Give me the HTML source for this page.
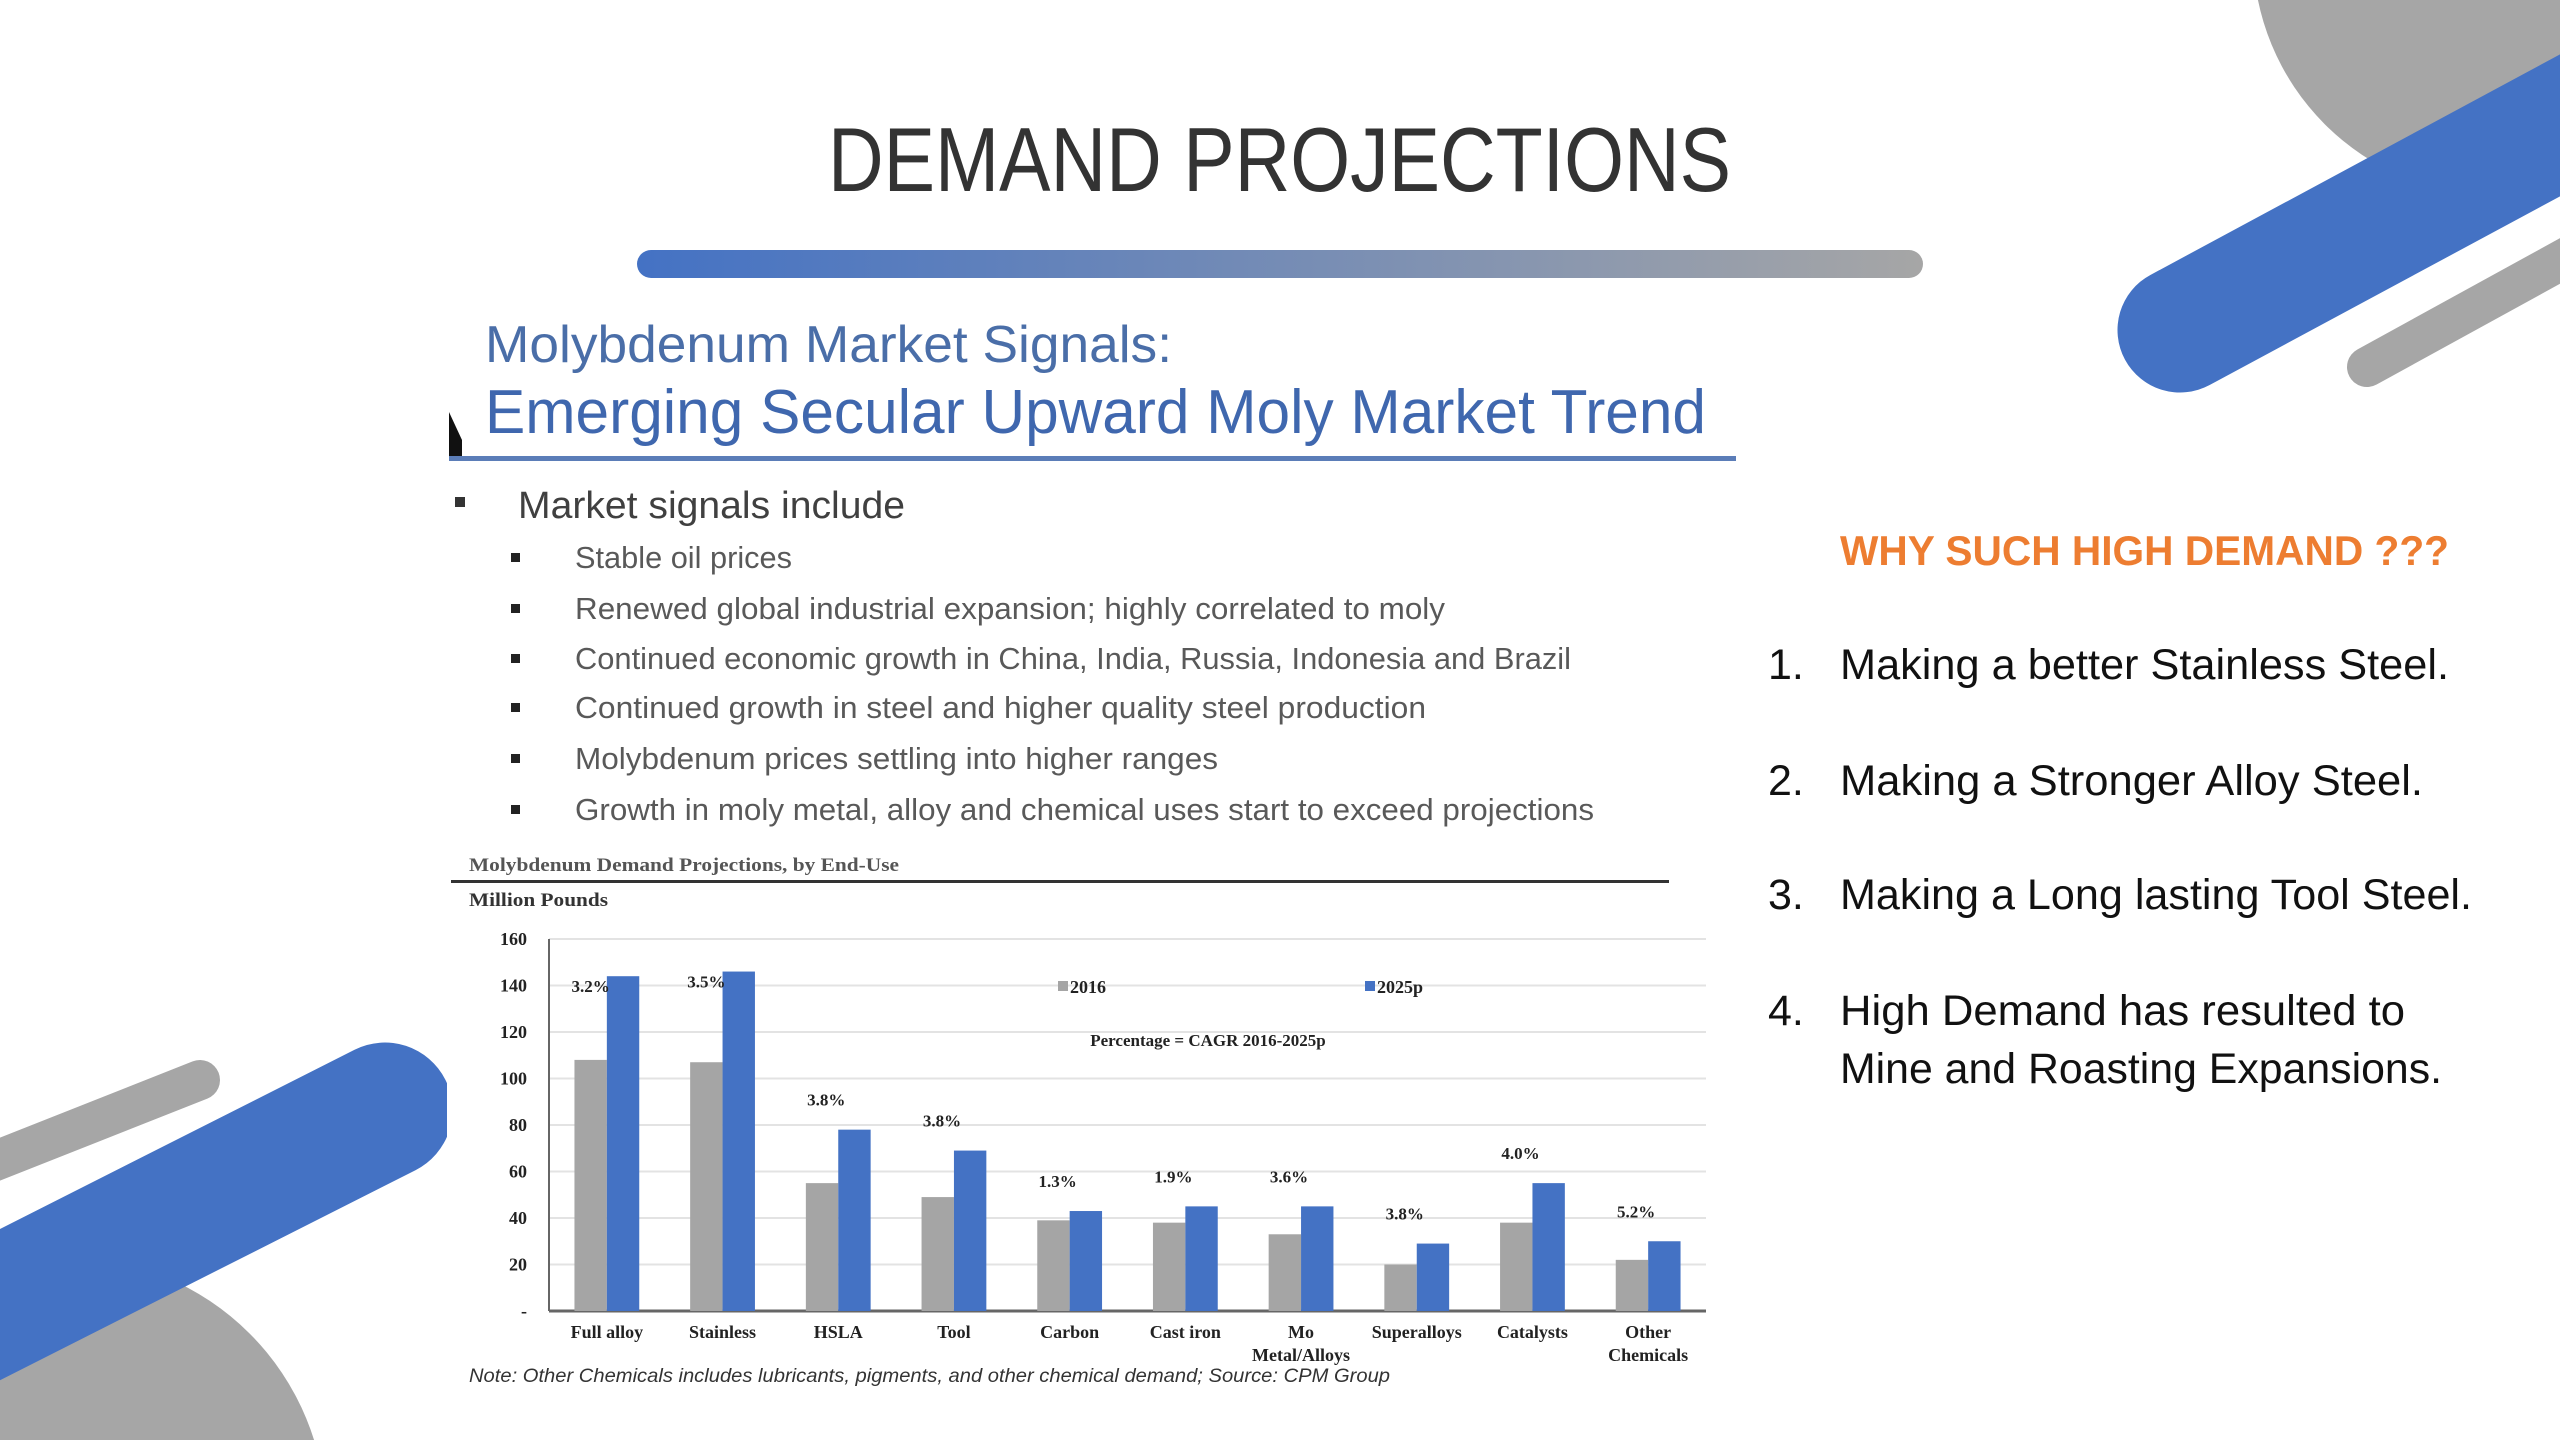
<!DOCTYPE html>
<html><head><meta charset="utf-8"><style>
html,body{margin:0;padding:0;background:#fff;width:2560px;height:1440px;overflow:hidden}
svg{display:block}
.t{font-family:"Liberation Sans",sans-serif}
.s{font-family:"Liberation Serif",serif;font-weight:bold}
</style></head><body>
<svg id="slide" width="2560" height="1440" viewBox="0 0 2560 1440" xmlns="http://www.w3.org/2000/svg">
<defs>
<linearGradient id="g1" x1="0" x2="1" y1="0" y2="0"><stop offset="0" stop-color="#4472C4"/><stop offset="1" stop-color="#A6A6A6"/></linearGradient>
<clipPath id="clipL"><rect x="0" y="0" width="447" height="1440"/></clipPath>
<clipPath id="clipAll"><rect x="0" y="0" width="2560" height="1440"/></clipPath>
</defs>
<g clip-path="url(#clipAll)">
<rect width="2560" height="1440" fill="#fff"/>
<g>
<circle cx="2498" cy="-49" r="245" fill="#A6A6A6"/>
<line x1="2180" y1="330" x2="2700" y2="50" stroke="#4472C4" stroke-width="125" stroke-linecap="round"/>
<line x1="2367" y1="367" x2="2620" y2="228" stroke="#A6A6A6" stroke-width="40" stroke-linecap="round"/>
</g>
<g clip-path="url(#clipL)">
<circle cx="65" cy="1518" r="261" fill="#A6A6A6"/>
<line x1="-40" y1="1175" x2="200" y2="1080" stroke="#A6A6A6" stroke-width="40" stroke-linecap="round"/>
<line x1="-80" y1="1345" x2="385" y2="1110" stroke="#4472C4" stroke-width="135" stroke-linecap="round"/>
</g>
</g>
<text class="t" x="828" y="191" font-size="91" fill="#333" textLength="903" lengthAdjust="spacingAndGlyphs">DEMAND PROJECTIONS</text>
<rect x="637" y="250" width="1286" height="28" rx="14" fill="url(#g1)"/>
<text class="t" x="485" y="362" font-size="52" fill="#4A6EA8" textLength="687" lengthAdjust="spacingAndGlyphs">Molybdenum Market Signals:</text>
<text class="t" x="485" y="433" font-size="62" fill="#3F67AE" textLength="1221" lengthAdjust="spacingAndGlyphs">Emerging Secular Upward Moly Market Trend</text>
<polygon points="449,412 462,440 462,460 449,460" fill="#111"/>
<rect x="449" y="456" width="1287" height="5" fill="#5B7DB8"/>
<rect x="455" y="497" width="10" height="10" fill="#333"/>
<text class="t" x="518" y="518" font-size="38" fill="#404040" textLength="387" lengthAdjust="spacingAndGlyphs">Market signals include</text>
<g class="t" font-size="31" fill="#595959">
<rect x="511" y="553" width="9" height="9" fill="#222"/><text x="575" y="568" textLength="217" lengthAdjust="spacingAndGlyphs">Stable oil prices</text>
<rect x="511" y="604" width="9" height="9" fill="#222"/><text x="575" y="619" textLength="870" lengthAdjust="spacingAndGlyphs">Renewed global industrial expansion; highly correlated to moly</text>
<rect x="511" y="654" width="9" height="9" fill="#222"/><text x="575" y="669" textLength="996" lengthAdjust="spacingAndGlyphs">Continued economic growth in China, India, Russia, Indonesia and Brazil</text>
<rect x="511" y="703" width="9" height="9" fill="#222"/><text x="575" y="718" textLength="851" lengthAdjust="spacingAndGlyphs">Continued growth in steel and higher quality steel production</text>
<rect x="511" y="754" width="9" height="9" fill="#222"/><text x="575" y="769" textLength="643" lengthAdjust="spacingAndGlyphs">Molybdenum prices settling into higher ranges</text>
<rect x="511" y="805" width="9" height="9" fill="#222"/><text x="575" y="820" textLength="1019" lengthAdjust="spacingAndGlyphs">Growth in moly metal, alloy and chemical uses start to exceed projections</text>
</g>
<text class="t" x="1840" y="565" font-size="42" font-weight="bold" fill="#ED7D31" textLength="609" lengthAdjust="spacingAndGlyphs">WHY SUCH HIGH DEMAND ???</text>
<g class="t" font-size="43" fill="#111">
<text x="1768" y="679">1.</text><text x="1840" y="679" textLength="609" lengthAdjust="spacingAndGlyphs">Making a better Stainless Steel.</text>
<text x="1768" y="795">2.</text><text x="1840" y="795" textLength="583" lengthAdjust="spacingAndGlyphs">Making a Stronger Alloy Steel.</text>
<text x="1768" y="909">3.</text><text x="1840" y="909" textLength="632" lengthAdjust="spacingAndGlyphs">Making a Long lasting Tool Steel.</text>
<text x="1768" y="1025">4.</text><text x="1840" y="1025" textLength="565" lengthAdjust="spacingAndGlyphs">High Demand has resulted to</text>
<text x="1840" y="1083" textLength="602" lengthAdjust="spacingAndGlyphs">Mine and Roasting Expansions.</text>
</g>
<g id="chart">
<text class="s" x="469" y="871" font-size="19" fill="#555" textLength="430" lengthAdjust="spacingAndGlyphs">Molybdenum Demand Projections, by End-Use</text>
<rect x="451" y="880" width="1218" height="3" fill="#333"/>
<text class="s" x="469" y="906" font-size="19" fill="#333" textLength="139" lengthAdjust="spacingAndGlyphs">Million Pounds</text>
<g id="grid"></g><g id="bars"></g><g id="labels"></g>
<rect x="1058" y="981" width="10" height="10" fill="#A5A5A5"/>
<text class="s" x="1070" y="993" font-size="18" fill="#222">2016</text>
<rect x="1365" y="981" width="10" height="10" fill="#4472C4"/>
<text class="s" x="1377" y="993" font-size="18" fill="#222">2025p</text>
<text class="s" x="1208" y="1046" font-size="17" fill="#222" text-anchor="middle">Percentage = CAGR 2016-2025p</text>
<text class="t" x="469" y="1382" font-size="19" font-style="italic" fill="#333" textLength="921" lengthAdjust="spacingAndGlyphs">Note: Other Chemicals includes lubricants, pigments, and other chemical demand; Source: CPM Group</text>
</g>
</svg>
<script>
const categories = ["Full alloy","Stainless","HSLA","Tool","Carbon","Cast iron","Mo|Metal/Alloys","Superalloys","Catalysts","Other|Chemicals"];
const values2016 = [108,107,55,49,39,38,33,20,38,22];
const values2025p = [144,146,78,69,43,45,45,29,55,30];
const cagrLabels = ["3.2%","3.5%","3.8%","3.8%","1.3%","1.9%","3.6%","3.8%","4.0%","5.2%"];
const yTicks = [0,20,40,60,80,100,120,140,160];
const yTickLabels = ["-","20","40","60","80","100","120","140","160"];

const NS="http://www.w3.org/2000/svg";
const X0=549, X1=1706, Y0=1311, Y1=939, YMAX=160;
const band=(X1-X0)/categories.length;
const y=v=>Y0-(v/YMAX)*(Y0-Y1);
const cx=i=>X0+band*(i+0.5);
const bw=band*0.28;
function mk(tag,attrs,parent){const e=document.createElementNS(NS,tag);for(const k in attrs)e.setAttribute(k,attrs[k]);parent.appendChild(e);return e;}
const grid=document.getElementById('grid'),bars=document.getElementById('bars'),labels=document.getElementById('labels');
yTicks.forEach((t,i)=>{
  const l=mk('line',{x1:X0,x2:X1,y1:y(t),y2:y(t),stroke:i===0?'#666':'#e3e3e3','stroke-width':i===0?3:2},grid);
  
  
  const tx=mk('text',{x:527,y:y(t)+6,'text-anchor':'end','font-size':18,fill:'#222',class:'s'},grid);
  tx.textContent=yTickLabels[i];
  
  
});
const ax=mk('line',{x1:X0,x2:X0,y1:Y1,y2:Y0,stroke:'#666','stroke-width':2},grid);


categories.forEach((c,i)=>{
  const g=mk('rect',{x:cx(i)-bw,y:y(values2016[i]),width:bw,height:Y0-y(values2016[i]),fill:'#A5A5A5'},bars);
  
  
  const b=mk('rect',{x:cx(i),y:y(values2025p[i]),width:bw,height:Y0-y(values2025p[i]),fill:'#4472C4'},bars);
  
  
  const beside = values2025p[i] > 130;
  const lx = beside ? cx(i)-bw*0.5 : cx(i)-12;
  const ly = beside ? y(values2025p[i])+16 : y(values2025p[i])-24;
  const p=mk('text',{x:lx,y:ly,'text-anchor':'middle','font-size':17,fill:'#222',class:'s'},labels);
  p.textContent=cagrLabels[i];
  
  
  c.split('|').forEach((line,j)=>{
    const t=mk('text',{x:cx(i),y:1338+j*23,'text-anchor':'middle','font-size':18,fill:'#222',class:'s'},labels);
    t.textContent=line;
    
    
  });
});
</script>
</body></html>
